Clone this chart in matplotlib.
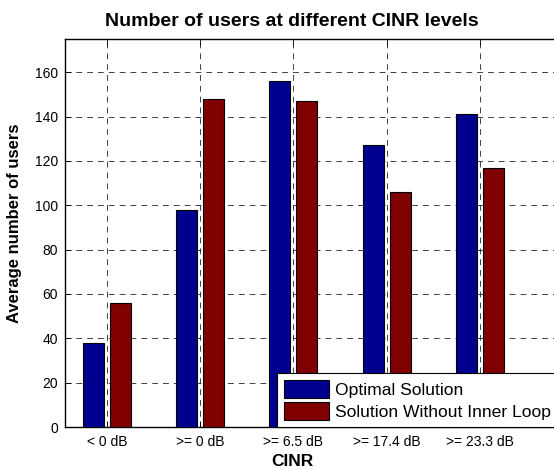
import numpy as np
import matplotlib
matplotlib.use('Agg')
import matplotlib.pyplot as plt

## --- Data
categories = ['< 0 dB', '>= 0 dB', '>= 6.5 dB', '>= 17.4 dB', '>= 23.3 dB']
optimal = [38, 98, 156, 127, 141]
no_inner = [56, 148, 147, 106, 117]
series_names = ['Optimal Solution', 'Solution Without Inner Loop']

plt.rcParams['font.family'] = ['Liberation Sans', 'DejaVu Sans']

## --- Plotting
fig = plt.figure(figsize=(5.54, 4.69), dpi=100)
ax = fig.add_axes([65 / 554, 42 / 469, 500 / 554, 388 / 469])

x = np.arange(1, len(categories) + 1)
w = 0.225
off = 0.145
ax.bar(x - off, optimal, w, color='#00008F', edgecolor='black', linewidth=0.8,
       label=series_names[0], zorder=3)
ax.bar(x + off, no_inner, w, color='#800000', edgecolor='black', linewidth=0.8,
       label=series_names[1], zorder=3)

ax.set_xlim(0.55, 0.55 + 500 / 93.2)
ax.set_ylim(0, 175)
ax.set_xticks(x)
ax.set_xticklabels(categories, fontsize=10)
ax.set_yticks(np.arange(0, 161, 20))
ax.tick_params(axis='y', labelsize=10, pad=5)
ax.tick_params(axis='x', pad=6)
ax.tick_params(direction='in', length=4, top=True, right=True, width=0.6)
ax.grid(True, color='#222222', linestyle=(0, (7, 6)), linewidth=0.6, zorder=0)
ax.set_axisbelow(True)
for s in ax.spines.values():
    s.set_linewidth(1.0)

ax.set_title('Number of users at different CINR levels', fontsize=14, fontweight='bold',
             x=(292 - 65) / 500, pad=9)
ax.set_xlabel('CINR', fontsize=12.5, fontweight='bold')
ax.xaxis.set_label_coords((292 - 65) / 500, -0.07)
ax.set_ylabel('Average number of users', fontsize=12, fontweight='bold')
ax.yaxis.set_label_coords(-0.085, 0.526)

leg = ax.legend(loc='lower left', bbox_to_anchor=((277 - 65) / 500, 0), borderaxespad=0,
                fontsize=12.6, handlelength=2.6, handleheight=1.2, labelspacing=0.22,
                handletextpad=0.3, borderpad=0.4, fancybox=False, framealpha=1,
                edgecolor='black')
leg.get_frame().set_linewidth(0.8)

plt.savefig('out.png', dpi=100)
plt.close()
